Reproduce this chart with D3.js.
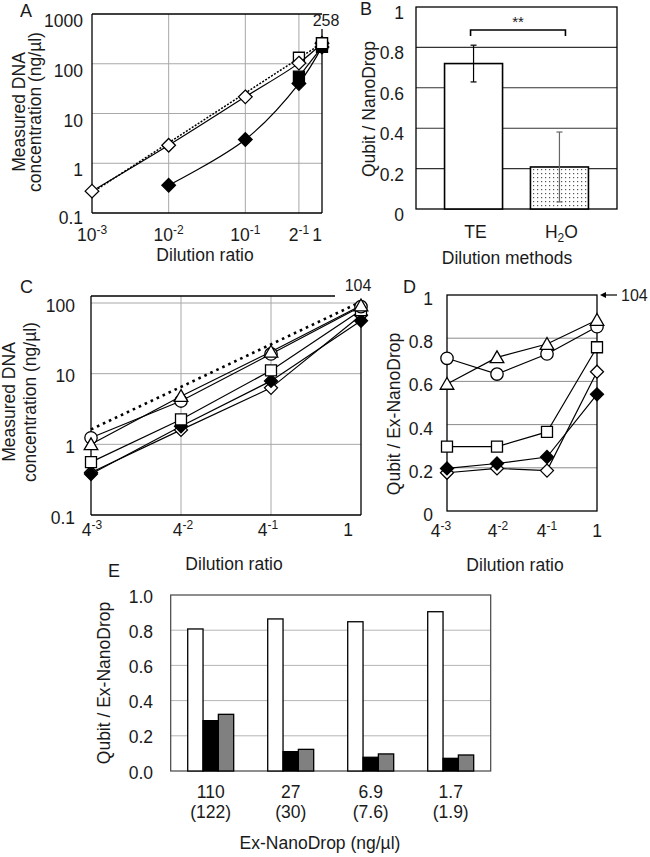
<!DOCTYPE html>
<html><head><meta charset="utf-8">
<script src="https://cdn.jsdelivr.net/npm/d3@7"></script>
<style>
body{margin:0;background:#fff}
svg text{font-family:'Liberation Sans',Arial,Helvetica,sans-serif;fill:#1a1a1a}
</style>
</head><body>
<svg id="c" width="650" height="857"></svg>
<script>
// ---------------- DATA ----------------
// Panel A
const dilA = [0.001, 0.01, 0.1, 0.5, 1];
const dilALabels = [["10","-3"],["10","-2"],["10","-1"],["2","-1"],["1",""]];
const aExpected = [0.258, 2.58, 25.8, 129, 258];
const aOpenDiamond = [0.275, 2.3, 21.6, 103, 258];
const aFilledDiamond = [null, 0.36, 3.0, 40, 218];
const aOpenSquare = [null, null, null, 132, 258];
const aFilledSquare = [null, null, null, 55, 218];
const aYTicks = [0.1, 1, 10, 100, 1000];
const aYLabels = ["0.1", "1", "10", "100", "1000"];
const aGridY = [1, 10, 100];
const aGridX = [0.01, 0.1, 0.5];
const aTopValue = "258";

// Panel B
const bCats = ["TE", "H2O"];
const bValues = [0.72, 0.208];
const bErrors = [0.091, 0.173];
const bYTicks = [0, 0.2, 0.4, 0.6, 0.8, 1];
const bYLabels = ["0", "0.2", "0.4", "0.6", "0.8", "1"];

// Panels C and D
const dilC = [1/64, 1/16, 1/4, 1];
const dilCLabels = [["4","-3"],["4","-2"],["4","-1"],["1",""]];
const cExpected = [1.625, 6.5, 26, 104];
const cOpenDiamond = [0.40, 1.6, 6.3, 67];
const cFilledDiamond = [0.38, 1.8, 7.9, 56];
const cSquare = [0.56, 2.25, 11.1, 79];
const cCircle = [1.24, 4.1, 19.0, 89];
const cTriangle = [1.0, 4.8, 20.4, 92];
const cYTicks = [0.1, 1, 10, 100];
const cYLabels = ["0.1", "1", "10", "100"];
const cTopValue = "104";

const dOpenDiamond = [0.177, 0.197, 0.187, 0.645];
const dFilledDiamond = [0.197, 0.220, 0.250, 0.540];
const dSquare = [0.298, 0.298, 0.366, 0.758];
const dCircle = [0.707, 0.634, 0.727, 0.853];
const dTriangle = [0.588, 0.711, 0.773, 0.884];
const dYTicks = [0, 0.2, 0.4, 0.6, 0.8, 1];
const dYLabels = ["0", "0.2", "0.4", "0.6", "0.8", "1"];

// Panel E
const eGroups = ["110", "27", "6.9", "1.7"];
const eGroupsSub = ["(122)", "(30)", "(7.6)", "(1.9)"];
const eWhite = [0.807, 0.864, 0.848, 0.905];
const eBlack = [0.286, 0.110, 0.078, 0.072];
const eGray = [0.322, 0.123, 0.097, 0.091];
const eYTicks = [0, 0.2, 0.4, 0.6, 0.8, 1.0];
const eYLabels = ["0.0", "0.2", "0.4", "0.6", "0.8", "1.0"];

// ---------------- HELPERS ----------------
const svg = d3.select("#c");
const FS = 17.5;
const GRID = "#a8a8a8";

function supText(g, x, y, base, sup, anchor) {
  const t = g.append("text").attr("x", x).attr("y", y)
    .attr("text-anchor", anchor || "middle").attr("font-size", FS);
  t.append("tspan").text(base);
  if (sup) t.append("tspan").attr("font-size", 12).attr("dy", -7).text(sup);
  return t;
}
function text(g, x, y, s, opts) {
  opts = opts || {};
  return g.append("text").attr("x", x).attr("y", y)
    .attr("text-anchor", opts.anchor || "middle")
    .attr("font-size", opts.size || FS).text(s);
}
function vText(g, x, y, s, size) {
  return g.append("text").attr("transform", `translate(${x},${y}) rotate(-90)`)
    .attr("text-anchor", "middle").attr("font-size", size || FS).text(s);
}
function line(g, x1, y1, x2, y2, color, w) {
  return g.append("line").attr("x1", x1).attr("y1", y1).attr("x2", x2).attr("y2", y2)
    .attr("stroke", color || "#000").attr("stroke-width", w || 1.3);
}
function shapePath(type, x, y, s) {
  switch (type) {
    case "diamond": return `M${x},${y - s}L${x + s},${y}L${x},${y + s}L${x - s},${y}Z`;
    case "square": return `M${x - s},${y - s}h${2 * s}v${2 * s}h${-2 * s}Z`;
    case "triangle": return `M${x},${y - s * 1.05}L${x + s * 1.1},${y + s * 0.85}L${x - s * 1.1},${y + s * 0.85}Z`;
    case "circle": return `M${x - s},${y}a${s},${s} 0 1,0 ${2 * s},0a${s},${s} 0 1,0 ${-2 * s},0Z`;
  }
}
function drawSeries(g, xs, ys, xVals, yVals, opts) {
  const pts = xVals.map((x, i) => ({x, y: yVals[i]})).filter(d => d.y != null);
  if (opts.line) {
    const gen = d3.line().x(d => xs(d.x)).y(d => ys(d.y));
    if (opts.curve) gen.curve(opts.curve);
    g.append("path").datum(pts).attr("d", gen).attr("fill", "none")
      .attr("stroke", "#000").attr("stroke-width", opts.lw || 1.2)
      .attr("stroke-dasharray", opts.dash || null);
  }
  if (opts.shape) {
    g.selectAll(null).data(pts).join("path")
      .attr("d", d => shapePath(opts.shape, xs(d.x), ys(d.y), opts.size))
      .attr("fill", opts.fill).attr("stroke", "#000").attr("stroke-width", 1.3);
  }
}

// ---------------- PANEL A ----------------
{
  const g = svg.append("g");
  const x = d3.scaleLog().domain([0.001, 1]).range([92, 322]);
  const y = d3.scaleLog().domain([0.1, 1000]).range([213, 14]);
  aGridY.forEach(v => line(g, 92, y(v), 322, y(v), GRID, 1));
  aGridX.forEach(v => line(g, x(v), 14, x(v), 213, GRID, 1));
  line(g, 92, 14, 92, 213); line(g, 92, 213, 322, 213);
  line(g, 92, 14, 322, 14); line(g, 322, 29, 322, 213);
  aYTicks.forEach((v, i) => text(g, 83, y(v) + (i === 0 ? 11 : 13), aYLabels[i], {anchor: "end"}));
  const xOff = [0, 0, 0, 0, -5];
  dilA.forEach((v, i) => supText(g, x(v) + xOff[i], 241, dilALabels[i][0], dilALabels[i][1]));
  text(g, 205, 261, "Dilution ratio");
  vText(g, 25, 112, "Measured DNA");
  vText(g, 41, 112, "concentration (ng/µl)");
  text(g, 326, 26, aTopValue, {size: 16});
  text(g, 20, 17, "A", {anchor: "start", size: 18});
  const curve = d3.curveCatmullRom.alpha(0.5);
  drawSeries(g, x, y, dilA, aExpected, {line: true, dash: "2,1.5", lw: 1.5});
  drawSeries(g, x, y, dilA, aFilledSquare, {line: true, curve, shape: "square", size: 5.5, fill: "#000"});
  drawSeries(g, x, y, dilA, aOpenSquare, {shape: "square", size: 5.5, fill: "#fff"});
  drawSeries(g, x, y, dilA, aFilledDiamond, {line: true, curve, shape: "diamond", size: 6.8, fill: "#000"});
  drawSeries(g, x, y, dilA, aOpenDiamond, {line: true, curve, shape: "diamond", size: 6.8, fill: "#fff"});
  drawSeries(g, x, y, dilA.slice(4), aOpenSquare.slice(4), {shape: "square", size: 5.5, fill: "#fff"});
}

// ---------------- PANEL B ----------------
{
  const g = svg.append("g");
  const defs = svg.append("defs");
  const pat = defs.append("pattern").attr("id", "dots").attr("patternUnits", "userSpaceOnUse")
    .attr("width", 4).attr("height", 4);
  pat.append("rect").attr("width", 4).attr("height", 4).attr("fill", "#fff");
  pat.append("rect").attr("x", 1).attr("y", 1).attr("width", 1.2).attr("height", 1.2).attr("fill", "#555");
  const x = d3.scalePoint().domain(bCats).range([416, 617]).padding(0.67);
  const y = d3.scaleLinear().domain([0, 1]).range([209, 7]);
  bYTicks.filter(v => v > 0 && v < 1).forEach(v => line(g, 416, y(v), 617, y(v), "#333", 1.1));
  g.append("rect").attr("x", 416).attr("y", 7).attr("width", 201).attr("height", 202)
    .attr("fill", "none").attr("stroke", "#000").attr("stroke-width", 1.3);
  bYTicks.forEach((v, i) => text(g, 404, y(v) + 12, bYLabels[i], {anchor: "end"}));
  const bw = 58;
  g.selectAll(null).data(bCats).join("rect")
    .attr("x", d => x(d) - bw / 2).attr("width", bw)
    .attr("y", (d, i) => y(bValues[i])).attr("height", (d, i) => y(0) - y(bValues[i]))
    .attr("fill", (d, i) => i === 0 ? "#fff" : "url(#dots)")
    .attr("stroke", "#000").attr("stroke-width", 1.6);
  bCats.forEach((c, i) => {
    const col = i === 0 ? "#000" : "#666";
    const cx = x(c);
    line(g, cx, y(bValues[i] + bErrors[i]), cx, y(bValues[i] - bErrors[i]), col, 1.2);
    line(g, cx - 3, y(bValues[i] + bErrors[i]), cx + 3, y(bValues[i] + bErrors[i]), col, 1.2);
    line(g, cx - 3, y(bValues[i] - bErrors[i]), cx + 3, y(bValues[i] - bErrors[i]), col, 1.2);
  });
  const bx1 = x(bCats[0]) - 3, bx2 = x(bCats[1]) + 6;
  g.append("path").attr("d", `M${bx1},36V30H${bx2}V36`).attr("fill", "none")
    .attr("stroke", "#000").attr("stroke-width", 1.6);
  text(g, (bx1 + bx2) / 2, 27, "**", {size: 15});
  text(g, x("TE") + 2, 238, "TE");
  const h = g.append("text").attr("x", x("H2O") + 2).attr("y", 238).attr("text-anchor", "middle").attr("font-size", FS);
  h.append("tspan").text("H");
  h.append("tspan").attr("font-size", 12).attr("dy", 4).text("2");
  h.append("tspan").attr("dy", -4).text("O");
  text(g, 507, 264, "Dilution methods");
  vText(g, 375, 109, "Qubit / NanoDrop");
  text(g, 360, 15, "B", {anchor: "start", size: 18});
}

// ---------------- PANEL C ----------------
const cdSeries = [
  {c: cOpenDiamond, d: dOpenDiamond, shape: "diamond", size: 6.5, fill: "#fff"},
  {c: cFilledDiamond, d: dFilledDiamond, shape: "diamond", size: 6.5, fill: "#000"},
  {c: cSquare, d: dSquare, shape: "square", size: 5.5, fill: "#fff"},
  {c: cCircle, d: dCircle, shape: "circle", size: 6.2, fill: "#fff"},
  {c: cTriangle, d: dTriangle, shape: "triangle", size: 6.2, fill: "#fff"}
];
{
  const g = svg.append("g");
  const x = d3.scaleLog().domain([1/64, 1]).range([91, 361]);
  const y = d3.scaleLog().domain([0.1, 100]).range([515, 303]);
  cYTicks.filter(v => v > 0.1).forEach(v => line(g, 91, y(v), 361, y(v), GRID, 1));
  dilC.slice(1, 3).forEach(v => line(g, x(v), 296, x(v), 515, GRID, 1));
  line(g, 91, 296, 91, 515); line(g, 91, 515, 361, 515);
  line(g, 91, 296, 335, 296); line(g, 361, 305, 361, 515);
  cYTicks.forEach((v, i) => text(g, 75, y(v) + 8.5, cYLabels[i], {anchor: "end"}));
  const xOff = [1, 2, -3, -13];
  dilC.forEach((v, i) => supText(g, x(v) + xOff[i], 536, dilCLabels[i][0], dilCLabels[i][1]));
  text(g, 234, 570, "Dilution ratio");
  vText(g, 15, 402, "Measured DNA");
  vText(g, 36, 402, "concentration (ng/µl)");
  text(g, 358, 291, cTopValue, {size: 16});
  text(g, 20, 293, "C", {anchor: "start", size: 18});
  cdSeries.forEach(s => drawSeries(g, x, y, dilC, s.c, {line: true, lw: 1.2}));
  drawSeries(g, x, y, dilC, cExpected, {line: true, dash: "2.6,4", lw: 2.6});
  cdSeries.forEach(s => drawSeries(g, x, y, dilC, s.c, {shape: s.shape, size: s.size, fill: s.fill}));
}

// ---------------- PANEL D ----------------
{
  const g = svg.append("g");
  const x = d3.scaleLog().domain([1/64, 1]).range([447, 597]);
  const y = d3.scaleLinear().domain([0, 1]).range([511, 295]);
  dYTicks.filter(v => v > 0 && v < 1).forEach(v => line(g, 447, y(v), 597, y(v), "#8c8c8c", 1));
  g.append("rect").attr("x", 447).attr("y", 295).attr("width", 150).attr("height", 216)
    .attr("fill", "none").attr("stroke", "#000").attr("stroke-width", 1.3);
  dYTicks.forEach((v, i) => text(g, 433, y(v) + 10, dYLabels[i], {anchor: "end"}));
  const xOff = [-6, 1, 0, 0];
  dilC.forEach((v, i) => supText(g, x(v) + xOff[i], 537, dilCLabels[i][0], dilCLabels[i][1]));
  text(g, 515, 571, "Dilution ratio");
  vText(g, 400, 414, "Qubit / Ex-NanoDrop");
  text(g, 403, 293, "D", {anchor: "start", size: 18});
  line(g, 604, 295, 617, 295, "#000", 1.2);
  g.append("path").attr("d", "M600,295L606,292L606,298Z").attr("fill", "#000");
  text(g, 621, 301, cTopValue, {anchor: "start", size: 16});
  cdSeries.forEach(s => drawSeries(g, x, y, dilC, s.d, {line: true, lw: 1.2}));
  cdSeries.forEach(s => drawSeries(g, x, y, dilC, s.d, {shape: s.shape, size: s.size, fill: s.fill}));
}

// ---------------- PANEL E ----------------
{
  const g = svg.append("g");
  const x0 = d3.scaleBand().domain(eGroups).range([170.7, 490.7]);
  const series = [eWhite, eBlack, eGray];
  const fills = ["#fff", "#000", "#808080"];
  const x1 = d3.scaleBand().domain([0, 1, 2]).range([0, x0.bandwidth()]).paddingInner(0).paddingOuter(1.11);
  const y = d3.scaleLinear().domain([0, 1]).range([771, 595]);
  eYTicks.filter(v => v > 0 && v < 1).forEach(v => line(g, 170.7, y(v), 490.7, y(v), "#b5b5b5", 1));
  g.append("rect").attr("x", 170.7).attr("y", 595).attr("width", 320).attr("height", 176)
    .attr("fill", "none").attr("stroke", "#444").attr("stroke-width", 1.2);
  eYTicks.forEach((v, i) => text(g, 153, y(v) + 7.5, eYLabels[i], {anchor: "end"}));
  series.forEach((vals, si) => {
    g.selectAll(null).data(eGroups).join("rect")
      .attr("x", d => x0(d) + x1(si)).attr("width", x1.bandwidth())
      .attr("y", (d, i) => y(vals[i])).attr("height", (d, i) => y(0) - y(vals[i]))
      .attr("fill", fills[si]).attr("stroke", "#000").attr("stroke-width", 1.3);
  });
  eGroups.forEach((gname, i) => {
    const cx = x0(gname) + x0.bandwidth() / 2;
    text(g, cx, 798, gname);
    text(g, cx, 818, eGroupsSub[i]);
  });
  text(g, 320, 849, "Ex-NanoDrop (ng/µl)");
  vText(g, 110, 683, "Qubit / Ex-NanoDrop");
  text(g, 108, 577, "E", {anchor: "start", size: 18});
}
</script>
</body></html>
